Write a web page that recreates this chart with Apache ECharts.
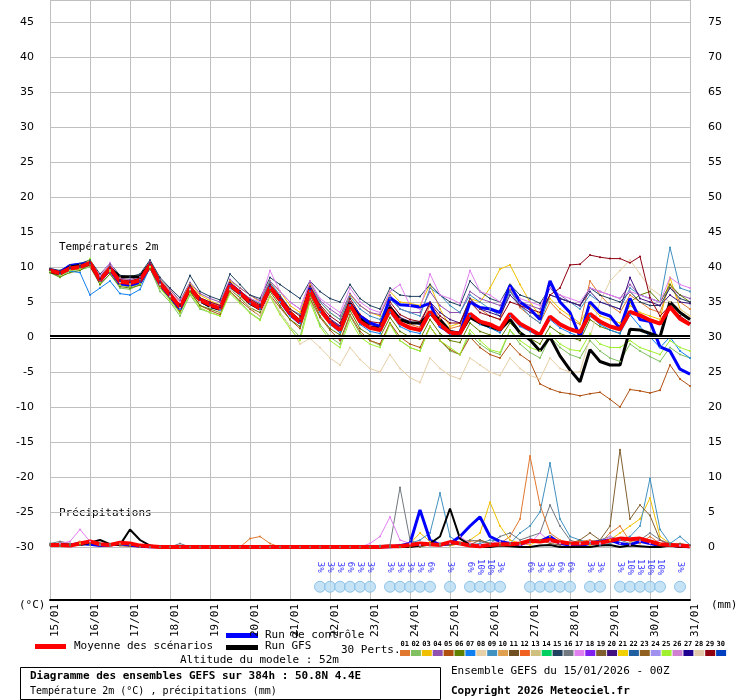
<!DOCTYPE html>
<html><head><meta charset="utf-8">
<script src="https://cdn.jsdelivr.net/npm/echarts@6/dist/echarts.min.js"></script>
<style>body{margin:0;background:#fff}#chart{width:740px;height:700px}</style>
</head><body><div id="chart"></div>
<script>
// 6-hourly steps from 15/01 00Z, 65 values (0..384h)
var tMean = [9.5,9.1,9.8,10,10.6,8.1,9.8,7.9,7.7,8.1,
  10.3,7.7,6,4.3,7,5.3,4.6,4.1,7.4,6.3,
  5,4.1,7.1,5.3,3.4,2.1,6.7,3.9,2.1,1,
  4.6,2.2,1.3,1,3.9,2,1.3,1,3.6,1.8,
  0.6,0.5,3.3,2.2,1.8,1.1,3.3,1.9,1.1,0.3,
  2.9,1.8,1.1,0.7,3.3,2.2,1.5,1.1,3.6,3.1,
  2.4,1.9,4.3,2.6,1.8];
var tCtrl = [9.6,9.2,10.2,10.4,10.5,8,9.6,7.6,7.4,7.8,
  10.2,7.5,5.8,4,7,5.2,4.4,4,7.6,6.4,
  5,4,7.2,5.2,3.2,2,7,4,2.2,1.2,
  4.8,3,2,1.5,5.6,4.6,4.5,4.3,4.8,1.5,
  0.7,0.6,5,4.2,4,3.5,7.4,5,4,2.5,
  8,5,3.5,0,5,3.5,3,1.2,5.5,2.5,
  2.2,-1.4,-2,-4.6,-5.3];
var tGfs = [9.4,9,10,10.2,10.4,8.2,9.8,8.6,8.6,8.6,
  10.4,7.8,6,4.2,7,5.2,4.4,4,7.3,6.2,
  4.8,4,7,5.4,3.5,2.2,6.8,4,2.2,1,
  4.8,2.6,1.4,1.2,4.2,2.5,2,2,3.3,2.5,
  0.8,0.5,2.8,2,1.5,1,2.5,0.6,-0.4,-2,
  0,-2.7,-4.7,-6.4,-1.8,-3.5,-4,-4,1.1,1,
  0.5,0,5,3.5,2.5];
var tM01 = [9.8,9,10,10.2,10.8,8.5,10,8.2,7.5,8,10.5,8,6.5,4,7.5,5,4.8,4,8,6,5.5,4.5,7.8,5.8,3.8,2.5,7.2,4.5,2.5,1.5,5,2.8,1.6,1.4,4.6,2.6,1.8,1.4,4.5,2.6,1.2,1.6,5.5,4,3,2.5,6.8,4.2,3,2,5,3.5,2.5,1.8,8,6,4.5,3.5,6,5,4,3.5,7.5,5,4];
var tM02 = [9.2,8.5,9.5,9.6,10,7.5,9,7,6.8,7.5,9.8,6.5,5,3,6,4,3.5,3,6.5,5,3.5,2.5,6,3.5,1.5,0,5.5,1.8,0,-1,3,0.5,-0.5,-1.2,2,-0.5,-1.5,-2,1.5,-0.5,-2,-2.5,0.5,-1,-2,-2.5,1,-1,-2.2,-3,0,-1.5,-2.5,-3,-0.5,-2,-3,-3.5,-1,-2,-2.8,-3.5,-1.5,-2.5,-3];
var tM03 = [9.6,9.2,10,10.2,10.5,8.8,10.2,8.5,8,8.3,10.4,8.2,6.8,5,7.6,6,5.2,4.6,8,7,6,5,8,6.5,4.5,3.5,7.5,5,3.5,2.5,6,4.5,3.5,3,6.5,5,4.8,4.5,7.5,4,1.5,2,5.5,5,7,9.7,10.3,7.5,5,3,5.5,4,3,2,4.5,3,2.5,2,4.5,3.5,3,2.5,8.5,4,3];
var tM04 = [9.7,9.4,10.2,10.4,11,8.6,10.3,8.4,8.2,8.6,10.8,8.2,6.8,5.2,7.8,6.2,5.5,5,8.2,7,6,5.2,8,6.5,5,4,7.8,5.2,4,3,6.2,4.5,3.5,3.2,6,4,3.5,3.5,6.5,4.5,3.5,3.5,6.5,5.5,5,4.5,6.5,5,4.5,4,7,6,5,4.5,7,6.5,6,5.5,7.5,6,5.5,5,7,6,5.5];
var tM05 = [9.3,8.8,9.6,9.8,10.2,7.8,9.4,7.4,7.2,7.6,9.8,7.2,5.5,3.8,6.5,4.5,3.8,3.2,6.5,5.2,4,3,6,4.2,2.5,1.2,5.5,2.8,1,-0.5,3.2,0.8,-0.5,-1,2,0,-1,-1.5,1.5,-0.5,-1.8,-2.5,0,-1.5,-2.5,-3,-1,-2.5,-3.5,-6.7,-7.4,-7.9,-8.1,-8.4,-8.1,-7.9,-8.9,-10,-7.5,-7.7,-8,-7.6,-4,-6,-7];
var tM06 = [9.2,8.6,9.2,9.5,10.4,7.5,9,7.2,7,7.4,9.8,7,5.5,3.5,6.5,4.5,4,3.5,6.8,5.6,4.2,3.5,6.5,4.5,2.5,1.5,6,3,1.2,0.3,3.8,1.2,0.3,0,2.8,0.8,0,-0.3,2.5,0.5,-0.5,-0.8,2,0.8,0.3,-0.2,2,0.6,-0.2,-1,1.5,0.5,0,-0.5,2.5,1.5,1,0.5,5,6,6.5,5,7.5,6,5];
var tM07 = [9.4,9,9.4,9.2,6,7,8,6.2,6,6.8,10,7.5,5.8,4,6.8,5,4.2,3.8,7,6,4.8,4,7,5,3,2,6.5,3.6,1.8,0.6,4.5,1.8,0.8,0.5,3.5,1.5,0.8,0.5,3.2,1.5,0.3,0.2,3,1.8,1.3,0.6,3,1.5,0.8,0,2.5,1.3,0.6,0,3,1.8,1,0.5,3.2,1.5,0,-1.5,0,-2,-3];
var tM08 = [9.6,9.1,9.8,10,10.5,8.2,9.6,7.8,7.6,8,10,7.5,5.8,4.2,6.8,5,4.2,3.6,6.8,5.8,4.2,3,6,3.5,1.5,-1,-0.2,-1.5,-3,-4,-1.5,-3.2,-4.5,-5,-2.5,-4.5,-5.8,-6.5,-3,-4.5,-5.5,-6,-3,-4,-5,-5.5,-3,-4.5,-5.5,-6,-3,-4.5,-5,-5,0,5,8,9.5,11,9,7,6,5,4,3];
var tM09 = [9.5,9.2,10,10.3,10.7,8.3,9.9,8,7.8,8.2,10.4,7.8,6.2,4.6,7.4,5.6,5,4.5,7.6,6.6,5.5,4.8,7.8,6,4,3.2,7.2,5,3.5,2.5,5.8,4,3,2.5,5.5,4,3.5,3,7,6,4.5,3.5,6,5,4,3,6.5,4.5,3,2,6,5.5,5,4,6,5,4.5,4,7,6,5.5,5,12.8,7,6.5];
var tM15 = [9.8,9.5,10.3,10.5,11,9,10.5,8.8,8.6,9,11,8.5,7,5.6,8.8,6.5,5.8,5.3,9,7.5,6,5.5,8.5,7.5,6.5,5.5,8,6.5,5.5,5,7.5,5.5,4.5,4,7,6,5.8,5.8,7.5,6,5,4.5,8,6.5,5.5,5,7.5,6,5.5,4.8,7,5.5,5,4.5,7,6,5.5,5,6.5,5,4.5,4.5,7,5.5,5];
var tM17 = [9.6,9.2,10,10.2,10.6,8.8,10.6,8.3,8,8.4,10.5,8,6.5,5,7.2,5.5,5,4.5,7.5,6.5,5.5,5,9.5,6.5,5,4,8,5.5,4.5,3.5,7,5,4,3.5,6.5,7.5,4.5,4,9,6,5.5,4.8,9.5,6.5,6,5,7,5.5,5,4.5,7,6,5.5,5,7,6.5,6,5.5,6.5,6,5.5,5,8.5,7.5,7];
var tM20 = [9.5,9.1,9.8,10,10.5,8.2,9.8,8,7.8,8,10.4,7.8,6.2,4.4,7.2,5.4,4.8,4.2,7.5,6.4,5.2,4.4,7.3,5.5,3.6,2.4,6.8,4.2,2.6,1.6,5,2.8,1.8,1.5,4.5,2.8,2.2,1.8,5,3.5,2.5,2,5.5,4,3.5,3,6,4.5,3.5,3,6,5.5,5,4.5,6.5,5,4.5,4,8.5,5.5,5,4.5,6,5,4.8];
var tM25 = [9.4,8.8,9.5,9.7,11.2,7.8,9.4,7.4,7.2,7.6,10,7,5.2,3.4,6.2,4.2,3.5,3,6.2,4.8,3.4,2.4,5.8,3.2,1.2,-0.5,5,1.5,-0.5,-1.5,2.5,0,-1,-1.5,1.8,-0.5,-1.5,-2,1.5,-0.5,-1.5,-2.5,1,-0.5,-1.8,-2.2,1,-0.5,-1.5,-2,0.5,-1,-1.8,-2,0.5,-1,-1.5,-1.5,-0.5,-1.5,-2,-2.5,-0.5,-1.5,-2];
var tM29 = [9.6,9.3,10,10.2,10.7,8.4,10,8.2,8,8.4,10.6,8,6.4,4.6,7.4,5.6,5,4.5,7.8,6.6,5.4,4.6,7.5,5.8,4,3,7.2,4.6,3,2,5.5,3.2,2.2,2,5,3.2,2.5,2.2,4.8,3,2,2,5,3.5,3,2.5,5,4.5,4,3.5,6,7,10.3,10.4,11.7,11.4,11.2,11.2,10.6,11.5,5.6,3,4.5,3,2];

var pMean = [0.3,0.3,0.2,0.5,0.8,0.4,0.3,0.6, 0.5,0.2,0.1,0,0,0,0,0, 0,0,0,0,0,0,0,0, 0,0,0,0,0,0,0,0,
  0,0,0.1,0.1,0.3,0.5,0.4,0.3, 0.7,0.5,0.2,0.1,0.3,0.4,0.4,0.5, 0.9,0.8,1,0.7,0.5,0.5,0.6,0.6, 0.9,1.2,1.1,1.2,0.8,0.4,0.3,0.2, 0.1];
var pGfs = [0.2,0.5,0.3,0.3,0.6,1,0.4,0.3, 2.5,1,0.2,0,0,0,0,0, 0,0,0,0,0,0,0,0, 0,0,0,0,0,0,0,0,
  0,0,0,0,0,0.2,0.5,1.5, 5.5,1.2,0.3,0,0,0.2,0.1,0, 0,0.2,0.3,0,0,0,0,0.2, 0.3,0,0.2,0.1,0,0,0.2,0, 0];
var pCtrl = [0.2,0.2,0.3,0.5,0.4,0.2,0.3,0.5, 0.3,0.1,0,0,0,0,0,0, 0,0,0,0,0,0,0,0, 0,0,0,0,0,0,0,0,
  0,0,0,0.2,0.5,5.3,1,0.3, 0.5,1.5,3,4.3,1.5,0.8,0.5,0.3, 1,0.8,1.5,0.5,0.3,0.2,0.5,0.8, 1,0.5,0.3,0.8,0.5,0.2,0.3,0.1, 0];
var pM01 = [0.3,0.2,0.3,0.8,0.5,0.3,0.2,0.5, 0.3,0,0,0,0,0,0,0, 0,0,0,0,1.2,1.5,0.5,0, 0,0,0,0,0,0,0,0,
  0,0,0,0,0,0.3,0.5,0.3, 0.2,0.5,0.8,1,0.5,0.5,1.5,4, 13,6,2,1,0.5,0.8,1,0.5, 2,3,0.8,0.5,1.5,0.5,0.3,0.2, 0];
var pM09 = [0.2,0.2,0.2,0.3,0.4,0.3,0.2,0.3, 0.2,0,0,0,0,0,0,0, 0,0,0,0,0,0,0,0, 0,0,0,0,0,0,0,0,
  0,0,0,0,0.5,1,2,7.7, 1.5,0.5,0.3,0.5,1,0.8,0.5,2, 3,5,12,4,1.5,1,0.5,0.3, 0.5,1,1.5,3,9.8,2.5,0.5,1.5, 0.3];
var pM16 = [0.5,0.8,0.5,0.3,0.3,0.5,0.4,0.3, 0.3,0,0,0,0,0.5,0,0, 0,0,0,0,0,0,0,0, 0,0,0,0,0,0,0,0,
  0,0.2,0.3,8.5,1,0.3,0.2,0.5, 0.3,0.5,1,0.8,0.5,1.5,2,1, 1.5,2,6,3,1,0.5,0.8,1, 1.5,1,0.5,1,2,1,0.5,0.3, 0.2];
var pM03 = [0.3,0.2,0.5,0.5,0.3,0.4,0.3,0.2, 0.1,0,0,0,0,0,0,0, 0,0,0,0,0,0,0,0, 0,0,0,0,0,0,0,0,
  0,0,0,0,0.5,2,0.8,0.3, 0.2,0.5,1,2,6.4,3,1,0.5, 0.3,1,1.5,0.5,0.3,0.5,0.3,0.5, 1,2,3,4,7,1.5,0.5,0.3, 0.2];
var pM17 = [0.3,0.5,0.8,2.5,0.8,0.5,0.3,0.2, 0.1,0,0,0,0,0,0,0, 0,0,0,0,0,0,0,0, 0,0,0,0,0,0,0,0,
  0.5,1.5,4.3,1,0.5,0.3,0.2,0.2, 0.5,1.5,0.5,0.3,0.5,0.8,0.5,0.3, 0.5,2,0.8,0.5,0.3,0.5,0.8,0.5, 1.5,0.5,0.3,0.8,0.5,1,0.3,0.2, 0.1];
var pM19 = [0.3,0.2,0.3,0.3,0.5,0.5,0.3,0.2, 0.1,0,0,0,0,0,0,0, 0,0,0,0,0,0,0,0, 0,0,0,0,0,0,0,0,
  0,0,0,0,0,0,0.3,0.2, 0.3,0.5,0.3,1,0.5,0.3,0.5,0.5, 0.8,1,0.5,0.3,0.5,1,2,1, 3,13.9,4,6,4.5,1,0.3,0.5, 0.2];

var snowHours = [162,168,174,180,186,192, 204,210,216,222,228, 240, 252,258,264,270, 288,294,300,306,312, 324,330, 342,348,354,360,366, 378];
var snowPct = [3,3,3,6,3,3, 3,3,3,3,6, 3, 6,10,10,3, 6,3,3,6,6, 3,3, 3,10,13,10,10, 3];

var pertColors = ['#e07830','#80c060','#f0c000','#9050b0','#b05010','#608000','#1080f0','#e8d0a8','#4090c0','#e0a050',
  '#705020','#f06020','#d0c080','#00d060','#204060','#707880','#e080f0','#8020f0','#806030','#401080',
  '#f0d000','#2060a0','#906020','#a090f0','#a0f030','#d080d0','#200090','#e0c8a8','#900010','#0040c0'];

var tempMembers = [[tM01,1],[tM02,2],[tM03,3],[tM04,4],[tM05,5],[tM06,6],[tM07,7],[tM08,8],[tM09,9],
  [tM15,15],[tM17,17],[tM20,20],[tM25,25],[tM29,29]];
var precMembers = [[pM01,1],[pM03,3],[pM09,9],[pM16,16],[pM17,17],[pM19,19]];

function pts(arr) { return arr.map(function(v, i) { return [i * 6, v]; }); }

var chart = echarts.init(document.getElementById('chart'));
var FONT = 'DejaVu Sans Mono';
var series = [];
tempMembers.forEach(function(m) {
  series.push({type: 'line', data: pts(m[0]), symbol: 'circle', symbolSize: 2, animation: false,
    lineStyle: {width: 1, color: pertColors[m[1] - 1]}, itemStyle: {color: pertColors[m[1] - 1]}});
});
precMembers.forEach(function(m) {
  series.push({type: 'line', yAxisIndex: 1, data: pts(m[0]), symbol: 'circle', symbolSize: 2, animation: false,
    lineStyle: {width: 1, color: pertColors[m[1] - 1]}, itemStyle: {color: pertColors[m[1] - 1]}});
});
series.push({type: 'line', data: pts(tCtrl), showSymbol: false, lineStyle: {width: 3, color: '#0000ff'}, animation: false});
series.push({type: 'line', data: pts(tGfs), showSymbol: false, lineStyle: {width: 3, color: '#000'}, animation: false,
  markLine: {silent: true, symbol: 'none', label: {show: false},
    data: [{yAxis: 0, lineStyle: {color: '#000', width: 4, type: 'solid'}}, {yAxis: 0, lineStyle: {color: '#fff', width: 1, type: 'solid'}}]}});
series.push({type: 'line', yAxisIndex: 1, data: pts(pCtrl), showSymbol: false, lineStyle: {width: 3, color: '#0000ff'}, animation: false});
series.push({type: 'line', yAxisIndex: 1, data: pts(pGfs), showSymbol: false, lineStyle: {width: 2, color: '#000'}, animation: false});
series.push({type: 'line', data: pts(tMean), showSymbol: false, lineStyle: {width: 4, color: '#ff0000'}, animation: false});
series.push({type: 'line', yAxisIndex: 1, data: pts(pMean), showSymbol: false, lineStyle: {width: 4, color: '#ff0000'}, animation: false});
// snow probability icons
series.push({type: 'scatter', xAxisIndex: 1, yAxisIndex: 2, symbol: 'circle', symbolSize: 11, animation: false,
  itemStyle: {color: '#b8dcf4', borderColor: '#7ab8e4', borderWidth: 1},
  data: snowHours.map(function(h) { return [h, 0.25]; })});
series.push({type: 'scatter', xAxisIndex: 1, yAxisIndex: 2, symbolSize: 0, animation: false,
  label: {show: true, position: 'inside', rotate: -90, color: '#0000ff', fontSize: 9, fontFamily: FONT,
    formatter: function(p) { return p.value[2] + '%'; }},
  data: snowHours.map(function(h, i) { return [h, 0.62, snowPct[i]]; })});

var gl = {show: true, lineStyle: {color: '#c0c0c0', width: 1}};
var graphic = [
  {type: 'text', left: 59, top: 242, style: {text: 'Températures 2m', font: '11px ' + FONT, fill: '#000'}},
  {type: 'text', left: 59, top: 508, style: {text: 'Précipitations', font: '11px ' + FONT, fill: '#000'}},
  {type: 'text', left: 19, top: 600, style: {text: '(°C)', font: '11px ' + FONT, fill: '#000'}},
  {type: 'text', left: 711, top: 600, style: {text: '(mm)', font: '11px ' + FONT, fill: '#000'}},
  {type: 'rect', shape: {x: 35, y: 644, width: 31, height: 5}, style: {fill: '#ff0000'}},
  {type: 'text', left: 74, top: 641, style: {text: 'Moyenne des scénarios', font: '11px ' + FONT, fill: '#000'}},
  {type: 'rect', shape: {x: 226, y: 633, width: 32, height: 5}, style: {fill: '#0000ff'}},
  {type: 'text', left: 265, top: 630, style: {text: 'Run de contrôle', font: '11px ' + FONT, fill: '#000'}},
  {type: 'rect', shape: {x: 226, y: 645, width: 32, height: 5}, style: {fill: '#000'}},
  {type: 'text', left: 265, top: 641, style: {text: 'Run GFS', font: '11px ' + FONT, fill: '#000'}},
  {type: 'text', left: 180, top: 655, style: {text: 'Altitude du modele : 52m', font: '11px ' + FONT, fill: '#000'}},
  {type: 'text', left: 341, top: 645, style: {text: '30 Perts.', font: '11px ' + FONT, fill: '#000'}},
  {type: 'rect', shape: {x: 20.5, y: 667.5, width: 420, height: 32}, style: {fill: '#fff', stroke: '#000', lineWidth: 1}},
  {type: 'text', left: 30, top: 671, style: {text: 'Diagramme des ensembles GEFS sur 384h : 50.8N 4.4E', font: 'bold 11px ' + FONT, fill: '#000'}},
  {type: 'text', left: 30, top: 686, style: {text: 'Température 2m (°C) , précipitations (mm)', font: '10px ' + FONT, fill: '#000'}},
  {type: 'text', left: 451, top: 666, style: {text: 'Ensemble GEFS du 15/01/2026 - 00Z', font: '11px ' + FONT, fill: '#000'}},
  {type: 'text', left: 451, top: 686, style: {text: 'Copyright 2026 Meteociel.fr', font: 'bold 11px ' + FONT, fill: '#000'}}
];
pertColors.forEach(function(c, i) {
  var n = (i < 9 ? '0' : '') + (i + 1);
  graphic.push({type: 'text', left: 400.5 + i * 10.9, top: 641, style: {text: n, font: 'bold 7px ' + FONT, fill: '#000'}});
  graphic.push({type: 'rect', shape: {x: 400 + i * 10.9, y: 650, width: 10, height: 6}, style: {fill: c}});
});

chart.setOption({
  backgroundColor: '#fff',
  animation: false,
  graphic: graphic,
  grid: [
    {left: 50, right: 50, top: 0, height: 547},
    {left: 50, right: 50, top: 547, height: 53}
  ],
  xAxis: [
    {type: 'value', gridIndex: 0, min: 0, max: 384, interval: 24, axisLabel: {show: false}, axisTick: {show: false},
      axisLine: {show: false}, splitLine: gl},
    {type: 'value', gridIndex: 1, min: 0, max: 384, interval: 24, axisTick: {show: false},
      axisLine: {show: true, lineStyle: {color: '#000', width: 2}}, splitLine: gl,
      axisLabel: {rotate: 90, align: 'right', verticalAlign: 'top', color: '#000', fontSize: 11, fontFamily: FONT, margin: 4,
        formatter: function(h) { return (15 + h / 24) + '/01'; }}}
  ],
  yAxis: [
    {type: 'value', gridIndex: 0, min: -30, max: 45 + 22 / 7, interval: 5, splitLine: gl,
      axisLine: {show: true, lineStyle: {color: '#c0c0c0'}}, axisTick: {show: false},
      axisLabel: {showMaxLabel: false, color: '#000', fontSize: 11, fontFamily: 'DejaVu Sans', margin: 16}},
    {type: 'value', gridIndex: 0, position: 'right', min: 0, max: 75 + 22 / 7, interval: 5, splitLine: {show: false},
      axisLine: {show: true, lineStyle: {color: '#c0c0c0'}}, axisTick: {show: false},
      axisLabel: {showMaxLabel: false, color: '#000', fontSize: 11, fontFamily: 'DejaVu Sans', margin: 18}},
    {type: 'value', gridIndex: 1, min: 0, max: 1, show: false}
  ],
  series: series
});
</script>
</body></html>
